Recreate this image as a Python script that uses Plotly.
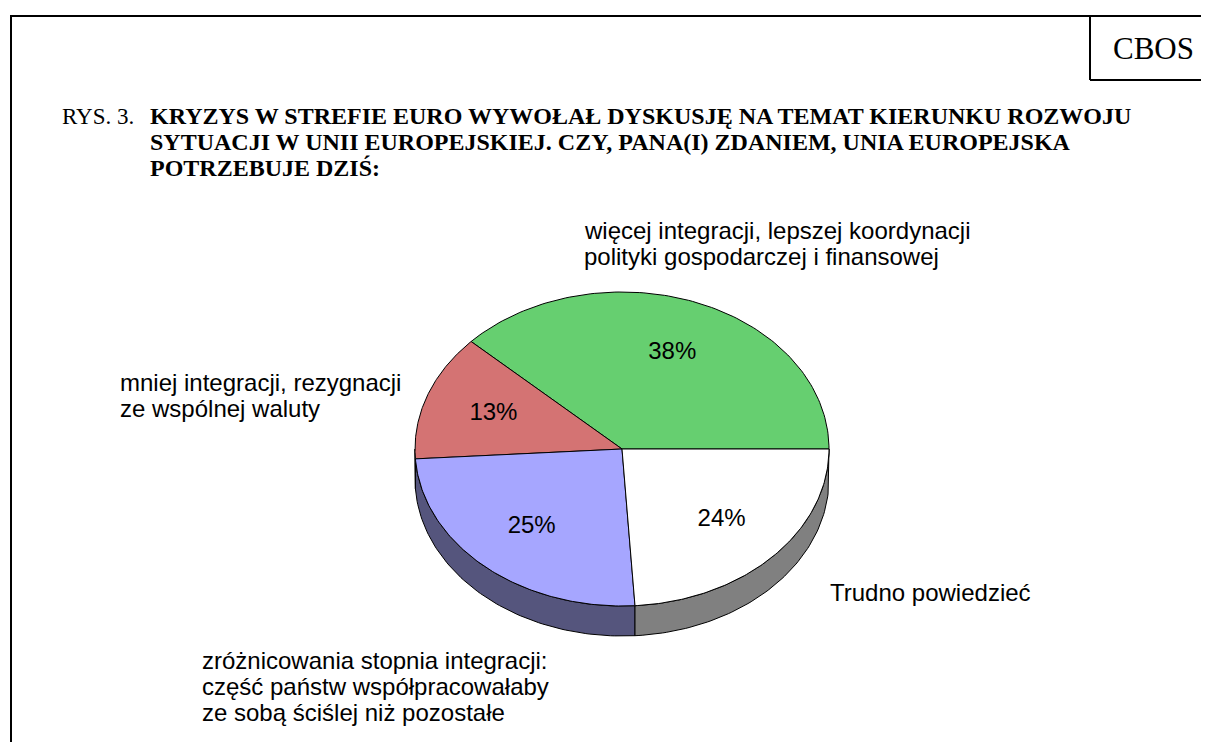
import numpy as np
import plotly.graph_objects as go

# data (counter-clockwise from 3 o'clock)
categories = [
    "więcej integracji, lepszej koordynacji polityki gospodarczej i finansowej",
    "mniej integracji, rezygnacji ze wspólnej waluty",
    "zróżnicowania stopnia integracji: część państw współpracowałaby ze sobą ściślej niż pozostałe",
    "Trudno powiedzieć",
]
shares = [38, 13, 25, 24]
top_colors = ["#66CF70", "#D47373", "#A6A6FF", "#FFFFFF"]
side_colors = ["#3F7F45", "#6A3A3A", "#55557D", "#808080"]

# pie geometry in page pixels (axes map 1:1 to the browser page)
W, H = 1209, 742
OFF = 8  # default body margin of the html page
cx, cy = 622, 449
rx, ry = 207, 157
depth = 30


def ell(theta_deg, dy=0.0, r=1.0):
    t = np.radians(theta_deg)
    return cx + r * rx * np.cos(t), cy - r * ry * np.sin(t) + dy


fig = go.Figure()

total = sum(shares)
bounds = np.concatenate([[0], np.cumsum(shares) / total * 360])

# side walls (only the front half, 180..360 deg, is visible)
for i in range(len(shares)):
    a, b = max(bounds[i], 180), min(bounds[i + 1], 360)
    if b <= a:
        continue
    th = np.linspace(a, b, 80)
    xt, yt = ell(th)
    xb, yb = ell(th[::-1], dy=depth)
    fig.add_trace(go.Scatter(
        x=np.concatenate([xt, xb, xt[:1]]), y=np.concatenate([yt, yb, yt[:1]]),
        mode="lines", fill="toself", fillcolor=side_colors[i],
        line=dict(color="black", width=1), hoverinfo="skip", showlegend=False))

# top faces
for i in range(len(shares)):
    th = np.linspace(bounds[i], bounds[i + 1], 120)
    xs, ys = ell(th)
    fig.add_trace(go.Scatter(
        x=np.concatenate([[cx], xs, [cx]]), y=np.concatenate([[cy], ys, [cy]]),
        mode="lines", fill="toself", fillcolor=top_colors[i],
        line=dict(color="black", width=1), hoverinfo="skip", showlegend=False))

sans = "Liberation Sans, Arial"
serif = "Liberation Serif, Times New Roman"

# percentage labels at mid-angle
mids = (bounds[:-1] + bounds[1:]) / 2
lx, ly = ell(mids, r=0.66)
fig.add_trace(go.Scatter(
    x=lx, y=ly, mode="text", text=[f"{v}%" for v in shares],
    textfont=dict(family=sans, size=24, color="black"),
    hoverinfo="skip", showlegend=False))

# category labels (wrapped lines, placed as in the original)
label_lines = [
    ["więcej integracji, lepszej koordynacji", "polityki gospodarczej i finansowej"],
    ["mniej integracji, rezygnacji", "ze wspólnej waluty"],
    ["zróżnicowania stopnia integracji:", "część państw współpracowałaby", "ze sobą ściślej niż pozostałe"],
    ["Trudno powiedzieć"],
]
label_pos = [(582, 230), (118, 382), (200, 660), (828, 592)]
annotations = []
for lines, (x0, y0) in zip(label_lines, label_pos):
    for k, line in enumerate(lines):
        annotations.append(dict(
            x=x0, y=y0 + k * 26, xref="x", yref="y", text=line, showarrow=False,
            xanchor="left", yanchor="middle",
            font=dict(family=sans, size=24, color="black")))

title_lines = [
    "KRYZYS W STREFIE EURO WYWOŁAŁ DYSKUSJĘ NA TEMAT KIERUNKU ROZWOJU",
    "SYTUACJI W UNII EUROPEJSKIEJ. CZY, PANA(I) ZDANIEM, UNIA EUROPEJSKA",
    "POTRZEBUJE DZIŚ:",
]
annotations.append(dict(x=60, y=116, xref="x", yref="y", text="RYS. 3.", showarrow=False,
                        xanchor="left", yanchor="middle",
                        font=dict(family=serif, size=23, color="black")))
for k, line in enumerate(title_lines):
    annotations.append(dict(x=148, y=116 + k * 26, xref="x", yref="y", text=f"<b>{line}</b>",
                            showarrow=False, xanchor="left", yanchor="middle",
                            font=dict(family=serif, size=24, color="black")))
annotations.append(dict(x=1153, y=48, xref="x", yref="y", text="CBOS", showarrow=False,
                        xanchor="center", yanchor="middle",
                        font=dict(family=serif, size=31, color="black")))

frame = dict(color="black", width=2)
shapes = [
    dict(type="line", x0=10, x1=W + 20, y0=16, y1=16, xref="x", yref="y", line=frame),
    dict(type="line", x0=11, x1=11, y0=16, y1=H + 20, xref="x", yref="y", line=frame),
    dict(type="line", x0=1090, x1=1090, y0=16, y1=80, xref="x", yref="y", line=frame),
    dict(type="line", x0=1090, x1=W + 20, y0=80, y1=80, xref="x", yref="y", line=frame),
]

fig.update_layout(
    width=W, height=H, autosize=False,
    margin=dict(l=0, r=0, t=0, b=0),
    paper_bgcolor="white", plot_bgcolor="white",
    xaxis=dict(range=[OFF, W + OFF], visible=False, fixedrange=True),
    yaxis=dict(range=[H + OFF, OFF], visible=False, fixedrange=True),
    annotations=annotations, shapes=shapes, showlegend=False,
)

fig.write_html("out.html")
